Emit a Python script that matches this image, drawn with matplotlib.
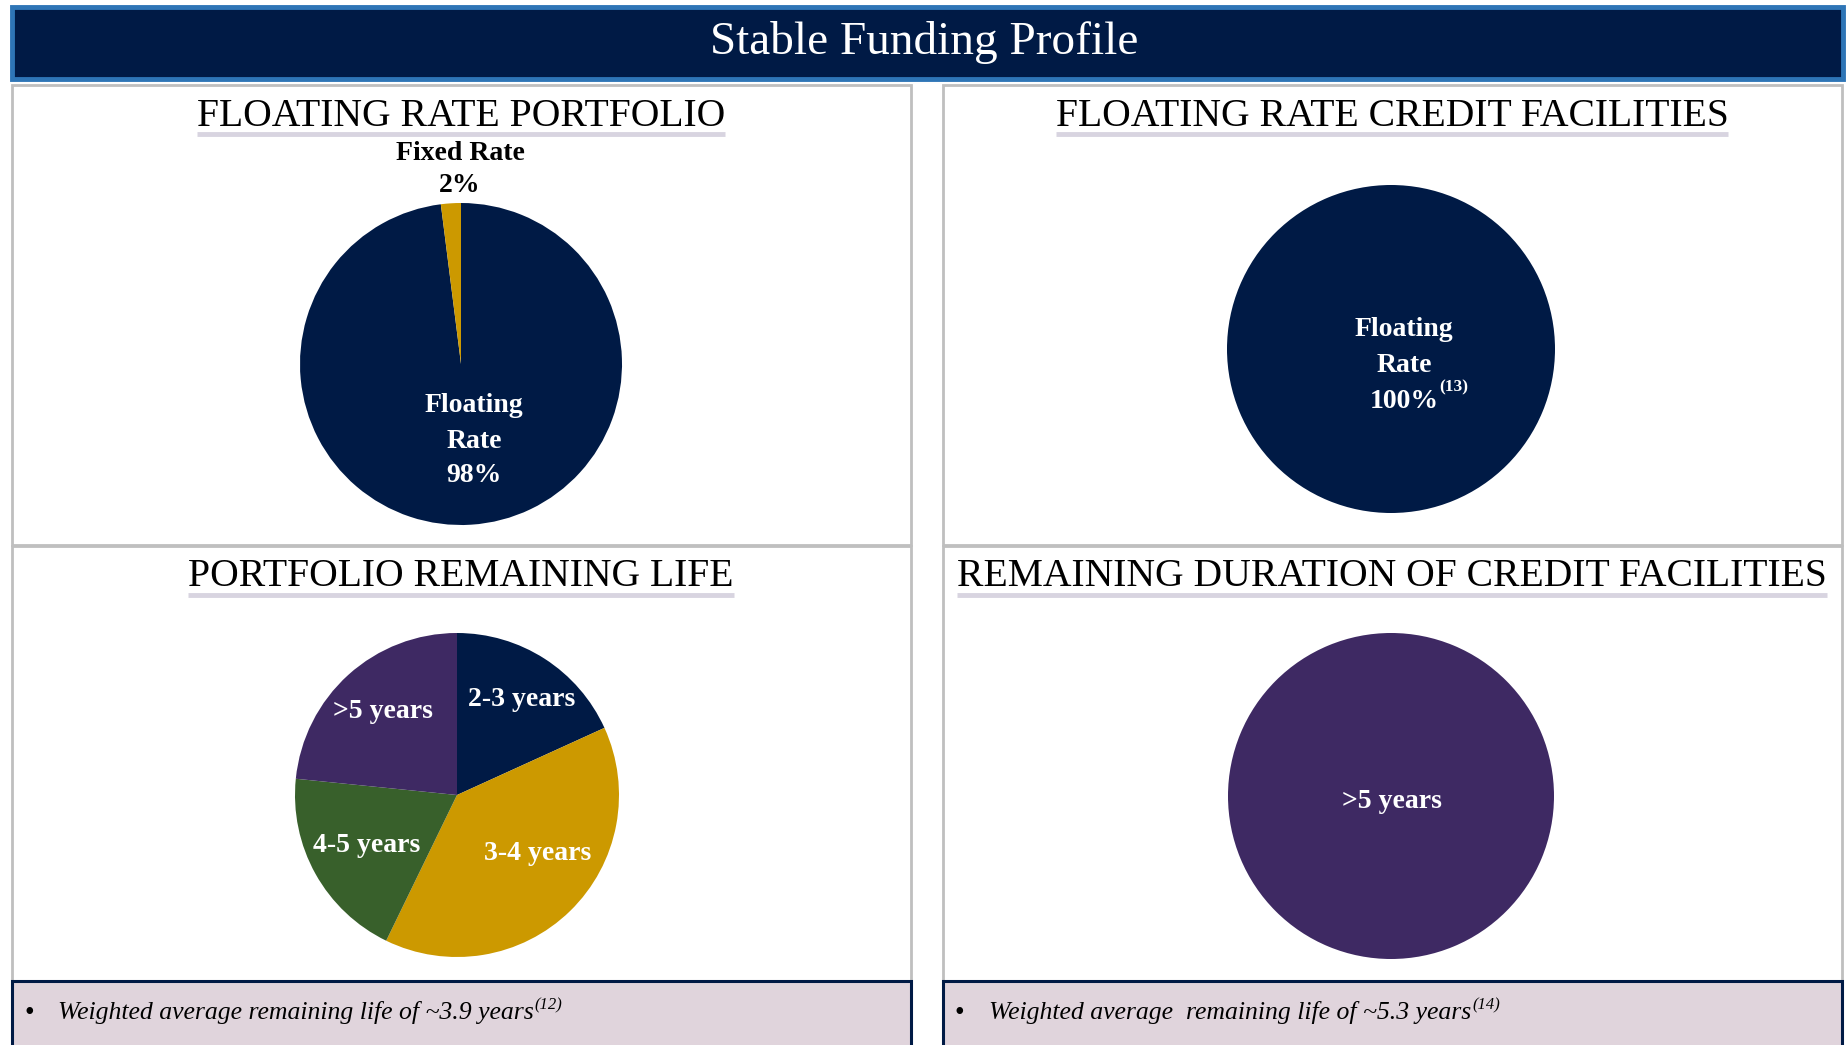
import matplotlib.pyplot as plt
from matplotlib.patches import Rectangle

W, H = 1849, 1045

NAVY = '#001a45'
GOLD = '#cc9900'
GREEN = '#38602b'
PURPLE = '#3e2963'

# data
rate_labels = ['Floating Rate', 'Fixed Rate']
rate_values = [98, 2]
facility_labels = ['Floating Rate']
facility_values = [100]
life_labels = ['2-3 years', '3-4 years', '4-5 years', '>5 years']
life_values = [18.2, 39.0, 19.4, 23.4]
duration_labels = ['>5 years']
duration_values = [100]

SERIF = ['Liberation Serif', 'DejaVu Serif']
plt.rcParams['font.family'] = SERIF

fig = plt.figure(figsize=(W / 100, H / 100), dpi=100)
fig.patch.set_facecolor('white')

bg = fig.add_axes([0, 0, 1, 1])
bg.set_xlim(0, W)
bg.set_ylim(H, 0)
bg.axis('off')

# title bar
bg.add_patch(Rectangle((12, 7), 1831, 72, facecolor=NAVY, edgecolor='#2e75b6', lw=3.5))
bg.text(W / 2, 43, 'Stable Funding Profile', color='white', fontsize=34,
        ha='center', va='center')

# panel frames
for x0 in (12, 943):
    bg.add_patch(Rectangle((x0, 85), 899, 460, facecolor='none', edgecolor='#bfbfbf', lw=2))
    bg.add_patch(Rectangle((x0, 546), 899, 440, facecolor='none', edgecolor='#bfbfbf', lw=2))
    bg.add_patch(Rectangle((x0, 981), 899, 70, facecolor='#e0d4dc', edgecolor=NAVY, lw=2.2))

titles = [
    (461, 116, 'FLOATING RATE PORTFOLIO'),
    (1392, 116, 'FLOATING RATE CREDIT FACILITIES'),
    (461, 577, 'PORTFOLIO REMAINING LIFE'),
    (1392, 577, 'REMAINING DURATION OF CREDIT FACILITIES'),
]
fig.canvas.draw()
renderer = fig.canvas.get_renderer()
for x, y, t in titles:
    tx = bg.text(x, y, t, fontsize=28.5, ha='center', va='center', color='black')
    bb = tx.get_window_extent(renderer)
    yl = H - (y + 18)
    bg.plot([bb.x0, bb.x1], [yl, yl], color='#d8d4e0', lw=3.5,
            solid_capstyle='butt', transform=None)


def pie_axes(cx, cy, r, values, colors, **kw):
    ax = fig.add_axes([(cx - r) / W, 1 - (cy + r) / H, 2 * r / W, 2 * r / H])
    ax.pie(values, colors=colors, radius=1, **kw)
    ax.set_xlim(-1, 1)
    ax.set_ylim(-1, 1)
    ax.axis('off')
    return ax


ax1 = pie_axes(461, 364, 161, rate_values, [NAVY, GOLD],
               startangle=90 + 360 * rate_values[1] / 100)
ax2 = pie_axes(1391, 349, 164, facility_values, [NAVY])
ax3 = pie_axes(457, 795, 162, life_values, [NAVY, GOLD, GREEN, PURPLE],
               startangle=90, counterclock=False)
ax4 = pie_axes(1391, 796, 163, duration_values, [PURPLE])

# overlay for labels
top = fig.add_axes([0, 0, 1, 1])
top.set_xlim(0, W)
top.set_ylim(H, 0)
top.axis('off')
top.patch.set_alpha(0)

lab = dict(color='white', fontsize=20, fontweight='bold', ha='center', va='center')

for y, t in zip((406, 441, 476), ('Floating', 'Rate', '98%')):
    top.text(474, y, t, **lab)
top.text(460, 154, 'Fixed Rate', color='black', fontsize=20, fontweight='bold',
         ha='center', va='center')
top.text(460, 186, '2%', color='black', fontsize=20, fontweight='bold',
         ha='center', va='center')

top.text(1404, 329, 'Floating', **lab)
top.text(1404, 365, 'Rate', **lab)
pct = top.text(1404, 401, '100%', **lab)
bb = pct.get_window_extent(renderer)
top.text(bb.x1 + 1, bb.y1 + 1, '(13)', color='white', fontsize=12.5, fontweight='bold',
         ha='left', va='center', transform=None)

life_pos = [(522, 699), (538, 854), (367, 845), (383, 711)]
for (x, y), t in zip(life_pos, life_labels):
    top.text(x, y, t, **lab)

top.text(1392, 802, duration_labels[0], **lab)

# footers
notes = [(24, 'Weighted average remaining life of ~3.9 years', '(12)'),
         (955, 'Weighted average  remaining life of ~5.3 years', '(14)')]
for x0, t, sup in notes:
    top.text(x0, 1013, '\u2022', fontsize=20, ha='left', va='center')
    tx = top.text(x0 + 34, 1013, t, fontsize=18.5, style='italic', ha='left', va='center')
    bb = tx.get_window_extent(renderer)
    top.text(bb.x1 + 1, bb.y1 - 4, sup, fontsize=12, style='italic', ha='left',
             va='center', transform=None)

fig.savefig('out.png', dpi=100)
